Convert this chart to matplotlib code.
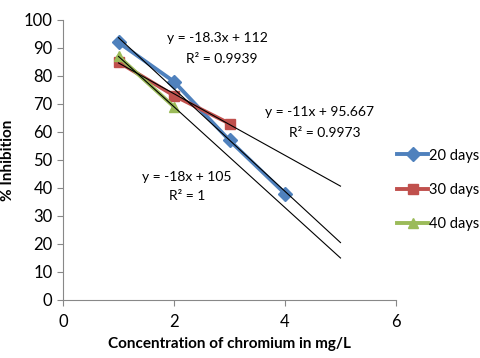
"""Percent inhibition versus chromium concentration with linear trendlines."""

import matplotlib
matplotlib.use('Agg')
import matplotlib.pyplot as plt
import numpy as np

conc_20 = [1, 2, 3, 4]
inhib_20 = [92, 78, 57, 38]
conc_30 = [1, 2, 3]
inhib_30 = [85, 73, 63]
conc_40 = [1, 2]
inhib_40 = [87, 69]

labels = ['20 days', '30 days', '40 days']
colors = ['#4F81BD', '#C0504D', '#9BBB59']
markers = ['D', 's', '^']

trend_end = 5


def main():
    plt.rcParams['font.family'] = ['Lato', 'DejaVu Sans']

    fig = plt.figure(figsize=(4.8, 3.58), dpi=100)
    ax = fig.add_axes([63 / 480, 58 / 358, 333 / 480, 280 / 358])

    series = [(conc_20, inhib_20), (conc_30, inhib_30), (conc_40, inhib_40)]
    for (x, y), lab, col, mk in zip(series, labels, colors, markers):
        ax.plot(x, y, color=col, marker=mk, lw=2.8, ms=7, label=lab)

    # Linear trendlines, forecast forward to x = 5
    for x, y in series:
        slope, icpt = np.polyfit(x, y, 1)
        xs = np.array([x[0], trend_end])
        ax.plot(xs, slope * xs + icpt, color='black', lw=0.8)

    fs = 10
    ax.text(2.79, 93.6, 'y = -18.3x + 112', ha='center', va='center', fontsize=fs)
    ax.text(2.86, 86, 'R² = 0.9939', ha='center', va='center', fontsize=fs)
    ax.text(4.63, 67.1, 'y = -11x + 95.667', ha='center', va='center', fontsize=fs)
    ax.text(4.72, 59.6, 'R² = 0.9973', ha='center', va='center', fontsize=fs)
    ax.text(2.23, 43.9, 'y = -18x + 105', ha='center', va='center', fontsize=fs)
    ax.text(2.23, 37.1, 'R² = 1', ha='center', va='center', fontsize=fs)

    ax.set_xlim(0, 6)
    ax.set_ylim(0, 100)
    ax.set_xticks([0, 2, 4, 6])
    ax.set_yticks(range(0, 101, 10))
    for side in ['top', 'right']:
        ax.spines[side].set_visible(False)
    for side in ['left', 'bottom']:
        ax.spines[side].set_color('#888888')
    ax.tick_params(colors='#888888', labelcolor='black', labelsize=12,
                   direction='out', length=4)
    ax.tick_params(axis='x', pad=6)

    ax.set_xlabel('Concentration of chromium in mg/L', fontweight='bold',
                  fontsize=11, labelpad=5)
    ax.set_ylabel('% Inhibition', fontweight='bold', fontsize=11, labelpad=6)

    ax.legend(loc='center left', bbox_to_anchor=(1.0, 0.393), frameon=False,
              fontsize=10.5, handlelength=2.1, handletextpad=0.05,
              labelspacing=1.4, borderaxespad=0.1, borderpad=0)

    fig.savefig('out.png', dpi=100)


if __name__ == '__main__':
    main()
